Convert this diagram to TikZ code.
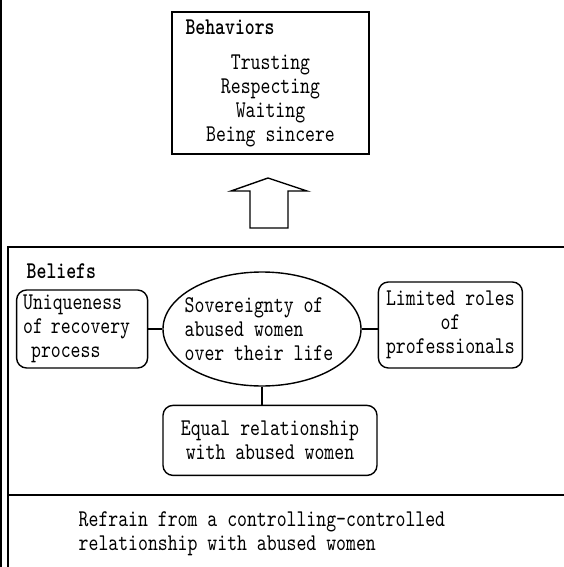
\documentclass[tikz,border=0pt]{standalone}
\usepackage{fontspec}
\setmonofont{lmmono10-regular.otf}[BoldFont=lmmonolt10-bold.otf, FakeStretch=0.786]
\usetikzlibrary{shapes.geometric,positioning}

\begin{document}
\begin{tikzpicture}[
	x=1pt, y=1pt,
	line width=1.4pt,
	font=\ttfamily\fontsize{24}{24}\selectfont
	]
\tikzset{
	box/.style = { rectangle, draw=black, inner sep=0pt, align=center },
	rounded/.style = { box, rounded corners=10pt },
	belief/.style = { ellipse, draw=black, inner sep=0pt, minimum width=198pt, minimum height=114pt },
	title/.style = { font=\ttfamily\fontsize{24}{24}\selectfont\bfseries, anchor=west, inner sep=0pt },
	plain/.style = { align=left, inner sep=0pt },
	link/.style = { line width=1.4pt, - }
}
	\useasboundingbox (0,0) rectangle (564,-567);

	% frame of the beliefs part
	\draw (1,0) -- (1,-567);
	\coordinate (frameTL) at (8,-247);
	\draw (564,-247) -- (frameTL) -- (8,-567);
	\draw (8,-495) -- (564,-495);

	% behaviors
	\node (behaviors) [box, minimum width=197pt, minimum height=142pt] at (270.5,-83)
		{\makebox[170pt][l]{\bfseries Behaviors}\\[11pt] Trusting\\ Respecting\\ Waiting\\ Being sincere};

	% hollow arrow
	\coordinate (arrowTip) at (268,-178);
	\draw (arrowTip) -- ++(39,-13) -- ++(-19,0) -- ++(0,-37) -- ++(-38,0) -- ++(0,37) -- ++(-19,0) -- cycle;

	% beliefs
	\node (beliefsTitle) [title] at (26,-271) {Beliefs};
	\node (sovereignty) [belief] at (262,-329) {};
	\node (sovereigntyText) [plain, xshift=-3pt] at (sovereignty) {Sovereignty of\\abused women\\over their life};
	\node (uniqueness) [rounded, align=left, text width=118pt, inner xsep=6.5pt, minimum height=78pt, left=14pt of sovereignty] {Uniqueness\\of recovery\\~process};
	\node (limited) [rounded, minimum width=144pt, minimum height=86pt, right=16pt of sovereignty, yshift=4pt] {Limited roles\\of\\professionals};
	\node (equal) [rounded, minimum width=214pt, minimum height=70pt, below=18pt of sovereignty, xshift=8pt] {Equal relationship\\with abused women};

	% links
	\draw [link] (uniqueness.east) -- (sovereignty.west);
	\draw [link] (sovereignty.east) -- (sovereignty.east -| limited.west);
	\draw [link] (sovereignty.south) -- (sovereignty.south |- equal.north);

	% bottom
	\node (refrain) [plain, anchor=west] at (78,-533.5) {Refrain from a controlling-controlled\\relationship with abused women};

\end{tikzpicture}
\end{document}
